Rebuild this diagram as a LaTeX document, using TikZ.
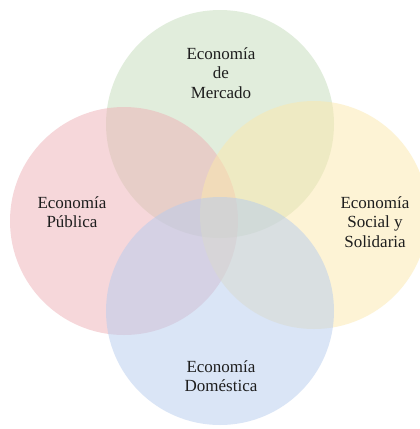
\documentclass[tikz,border=0pt]{standalone}
\usepackage{fontspec}
\setmainfont{Liberation Serif}
\definecolor{cgreen}{RGB}{197,221,187}
\definecolor{cpink}{RGB}{238,176,182}
\definecolor{cyellow}{RGB}{252,232,172}
\definecolor{cblue}{RGB}{182,204,238}
\definecolor{ctext}{RGB}{30,30,30}
\begin{document}
\begin{tikzpicture}[x=1pt,y=-1pt,
  circ/.style={circle,minimum size=228pt,inner sep=0pt,fill opacity=0.5,draw=none},
  lbl/.style={align=center,font=\fontsize{17}{19.5}\selectfont,text=ctext}]
\useasboundingbox[fill=white] (0,0) rectangle (420,429);
\node[circ,fill=cgreen] (mer) at (220,124) {};
\node[circ,fill=cpink] (pub) at (124,221) {};
\node[circ,fill=cyellow] (soc) at (314,215) {};
\node[circ,fill=cblue] (dom) at (220,311) {};
\node[lbl] (tmer) at (221,73) {Economía\\de\\Mercado};
\node[lbl] (tpub) at (72,212) {Economía\\Pública};
\node[lbl] (tsoc) at (375,222) {Economía\\Social y\\Solidaria};
\node[lbl] (tdom) at (221,376) {Economía\\Doméstica};
\end{tikzpicture}
\end{document}
